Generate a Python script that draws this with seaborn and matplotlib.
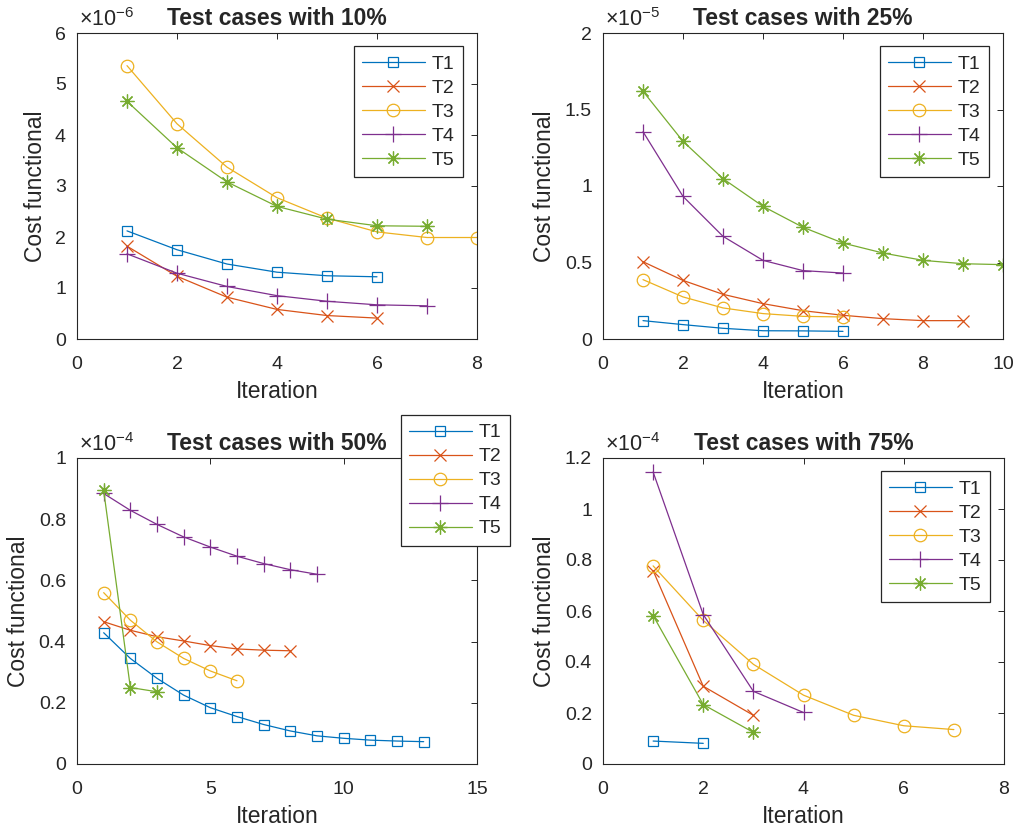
import numpy as np
import pandas as pd
import matplotlib
matplotlib.use("Agg")
import matplotlib.pyplot as plt
import seaborn as sns

sns.set_style("white")
plt.rcParams['font.family'] = ['Liberation Sans', 'DejaVu Sans']
plt.rcParams['mathtext.fontset'] = 'custom'
plt.rcParams['mathtext.rm'] = 'Liberation Sans'
plt.rcParams['mathtext.it'] = 'Liberation Sans'

# Data (values in units of the panel's exponent)
cases = ['T1', 'T2', 'T3', 'T4', 'T5']

p10_T1 = [2.12, 1.75, 1.47, 1.31, 1.24, 1.22]
p10_T2 = [1.82, 1.23, 0.82, 0.58, 0.46, 0.41]
p10_T3 = [5.36, 4.22, 3.37, 2.77, 2.37, 2.10, 1.99, 1.99]
p10_T4 = [1.67, 1.29, 1.03, 0.85, 0.74, 0.67, 0.65]
p10_T5 = [4.66, 3.75, 3.08, 2.60, 2.35, 2.22, 2.21]

p25_T1 = [0.12, 0.094, 0.07, 0.054, 0.053, 0.05]
p25_T2 = [0.505, 0.383, 0.292, 0.231, 0.185, 0.155, 0.133, 0.12, 0.12]
p25_T3 = [0.388, 0.275, 0.203, 0.166, 0.148, 0.144]
p25_T4 = [1.355, 0.932, 0.671, 0.514, 0.447, 0.431]
p25_T5 = [1.619, 1.292, 1.048, 0.867, 0.730, 0.627, 0.562, 0.514, 0.492, 0.486]

p50_T1 = [0.429, 0.345, 0.280, 0.225, 0.184, 0.155, 0.129, 0.108, 0.092,
          0.084, 0.078, 0.075, 0.073]
p50_T2 = [0.465, 0.437, 0.416, 0.402, 0.387, 0.376, 0.372, 0.370]
p50_T3 = [0.560, 0.470, 0.399, 0.345, 0.304, 0.272]
p50_T4 = [0.884, 0.829, 0.783, 0.742, 0.709, 0.679, 0.655, 0.635, 0.620]
p50_T5 = [0.894, 0.250, 0.236]

p75_T1 = [0.090, 0.081]
p75_T2 = [0.758, 0.305, 0.191]
p75_T3 = [0.777, 0.563, 0.391, 0.270, 0.191, 0.150, 0.135]
p75_T4 = [1.145, 0.586, 0.285, 0.202]
p75_T5 = [0.582, 0.233, 0.124]

titles = ['Test cases with 10%', 'Test cases with 25%',
          'Test cases with 50%', 'Test cases with 75%']
exponents = [-6, -5, -4, -4]
xticks = [[0, 2, 4, 6, 8], [0, 2, 4, 6, 8, 10], [0, 5, 10, 15], [0, 2, 4, 6, 8]]
yticks = [[0, 1, 2, 3, 4, 5, 6], [0, 0.5, 1, 1.5, 2],
          [0, 0.2, 0.4, 0.6, 0.8, 1], [0, 0.2, 0.4, 0.6, 0.8, 1, 1.2]]

panels = [
    [p10_T1, p10_T2, p10_T3, p10_T4, p10_T5],
    [p25_T1, p25_T2, p25_T3, p25_T4, p25_T5],
    [p50_T1, p50_T2, p50_T3, p50_T4, p50_T5],
    [p75_T1, p75_T2, p75_T3, p75_T4, p75_T5],
]

colors = ['#0072BD', '#D95319', '#EDB120', '#7E2F8E', '#77AC30']
markers = ['s', 'x', 'o', '+', (8, 2, 0)]
msizes = [7.5, 9, 9, 11, 10]
ink = '#262626'

fig = plt.figure(figsize=(10.21, 8.33), dpi=100)
W, H = 1021, 833
# axes boxes in pixels: left, top, right, bottom
boxes = [(77, 33, 477, 339), (603, 33, 1003, 339),
         (77, 458, 477, 764), (603, 458, 1004, 764)]

for i, series in enumerate(panels):
    l, t, r, b = boxes[i]
    ax = fig.add_axes([l / W, (H - b) / H, (r - l) / W, (b - t) / H])

    for name, vals, c, m, ms in zip(cases, series, colors, markers, msizes):
        df = pd.DataFrame({'Iteration': np.arange(1, len(vals) + 1),
                           'Cost': vals})
        sns.lineplot(data=df, x='Iteration', y='Cost', color=c, marker=m,
                     markersize=ms, mfc='none', mec=c, mew=0.9,
                     linewidth=0.9, ax=ax, label=name)

    ax.set_xlim(xticks[i][0], xticks[i][-1])
    ax.set_ylim(yticks[i][0], yticks[i][-1])
    ax.set_xticks(xticks[i])
    ax.set_yticks(yticks[i])
    ax.set_yticklabels(['%g' % v for v in yticks[i]])
    ax.tick_params(direction='in', top=True, right=True, length=4,
                   width=0.7, colors=ink, labelsize=14)
    ax.tick_params(axis='x', pad=12)
    ax.tick_params(axis='y', pad=8)
    for s in ax.spines.values():
        s.set_color(ink)
        s.set_linewidth(0.8)
    ax.set_xlabel('Iteration', fontsize=16.5, color=ink, labelpad=5)
    ax.set_ylabel('Cost functional', fontsize=16.5, color=ink, labelpad=6)
    ax.set_title(titles[i], fontsize=16.5, fontweight='bold', pad=6)
    ax.text(0.005, 1.008, r'$\times10^{%d}$' % exponents[i],
            transform=ax.transAxes, ha='left', va='bottom',
            fontsize=15.5, color=ink)

    kw = dict(loc='upper right', borderaxespad=0, fontsize=14,
              handlelength=3.2, handletextpad=0.35, labelspacing=0.33,
              borderpad=0.45, fancybox=False, framealpha=1, edgecolor=ink)
    if i == 2:
        leg = ax.legend(bbox_to_anchor=(510 / W, (H - 415) / H),
                        bbox_transform=fig.transFigure, **kw)
    else:
        leg = ax.legend(bbox_to_anchor=(0.965, 0.957), **kw)
    leg.get_frame().set_linewidth(0.9)

fig.savefig('out.png', dpi=100)
